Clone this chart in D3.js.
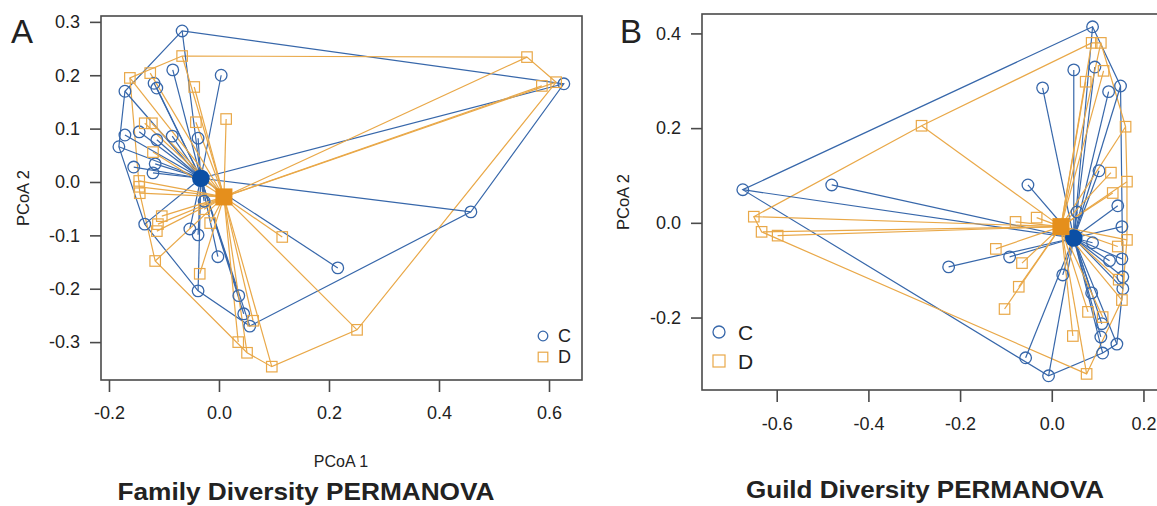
<!DOCTYPE html>
<html><head><meta charset="utf-8">
<script src="https://cdn.jsdelivr.net/npm/d3@7"></script>
<style>
html,body{margin:0;padding:0;background:#fff;}
svg{display:block;}
text{font-family:"Liberation Sans",Arial,sans-serif;fill:#222;}
</style></head>
<body>
<svg id="chart" width="1157" height="506"></svg>
<script>
// ---------- DATA ----------
const groups = ["C", "D"];
// Panel A: Family diversity (PCoA1, PCoA2)
const famC = [[-0.067,0.283],[-0.084,0.210],[0.004,0.200],[-0.118,0.185],[-0.113,0.176],[-0.171,0.170],
  [-0.145,0.094],[-0.171,0.088],[-0.113,0.079],[-0.085,0.086],[-0.038,0.082],[-0.182,0.066],
  [-0.155,0.028],[-0.116,0.034],[-0.120,0.017],[-0.027,-0.036],[-0.135,-0.079],[-0.053,-0.088],
  [-0.038,-0.099],[-0.002,-0.140],[-0.038,-0.204],[0.036,-0.213],[0.045,-0.247],[0.056,-0.270],
  [0.458,-0.056],[0.216,-0.161],[0.627,0.184]];
const famD = [[-0.067,0.236],[-0.162,0.195],[-0.125,0.204],[-0.045,0.178],[-0.135,0.110],[-0.122,0.110],
  [-0.042,0.112],[0.013,0.118],[-0.120,0.056],[-0.145,0.002],[-0.145,-0.009],[-0.144,-0.021],
  [-0.104,-0.064],[-0.111,-0.079],[-0.113,-0.092],[-0.027,-0.051],[-0.016,-0.077],[-0.116,-0.148],
  [-0.035,-0.172],[0.115,-0.103],[0.035,-0.300],[0.051,-0.320],[0.096,-0.346],[0.062,-0.260],
  [0.251,-0.277],[0.560,0.234],[0.587,0.180],[0.613,0.187]];
const famCentroids = [[-0.033,0.007],[0.009,-0.028]];
// Panel B: Guild diversity
const guildC = [[-0.674,0.070],[-0.480,0.080],[0.089,0.414],[0.048,0.323],[0.094,0.329],[-0.020,0.285],
  [0.124,0.277],[0.150,0.289],[0.103,0.110],[-0.052,0.080],[0.144,0.036],[0.055,0.023],
  [0.153,-0.008],[0.089,-0.042],[0.126,-0.080],[0.153,-0.076],[-0.092,-0.072],[-0.225,-0.093],
  [0.024,-0.110],[0.155,-0.114],[0.155,-0.139],[0.087,-0.148],[0.109,-0.213],[0.107,-0.241],
  [0.142,-0.256],[0.111,-0.275],[-0.057,-0.285],[-0.007,-0.323]];
const guildD = [[0.087,0.380],[0.107,0.380],[0.074,0.298],[0.113,0.321],[-0.284,0.205],[0.161,0.203],
  [0.129,0.106],[0.164,0.087],[0.133,0.063],[-0.079,0.002],[-0.033,0.011],[0.164,-0.036],
  [0.144,-0.050],[-0.122,-0.055],[-0.065,-0.085],[0.146,-0.120],[0.153,-0.163],[-0.072,-0.135],
  [-0.103,-0.182],[0.079,-0.188],[0.111,-0.199],[0.046,-0.239],[0.076,-0.319],
  [-0.650,0.013],[-0.633,-0.019],[-0.598,-0.027]];
const guildCentroids = [[0.048,-0.032],[0.020,-0.008]];
const famXTicks = [-0.2,0.0,0.2,0.4,0.6];
const famYTicks = [-0.3,-0.2,-0.1,0.0,0.1,0.2,0.3];
const guildXTicks = [-0.6,-0.4,-0.2,0.0,0.2];
const guildYTicks = [-0.2,0.0,0.2,0.4];

// ---------- STYLE ----------
const lineCol = {C:"#3767aa", D:"#e9a848"};
const centCol = {C:"#0b4fa5", D:"#e58f1c"};
const boxCol = "#4a4a4a";

const svg = d3.select("#chart");

function panel(cfg){
  const g = svg.append("g");
  const x = d3.scaleLinear().domain(cfg.xdom).range([cfg.left, cfg.right]);
  const y = d3.scaleLinear().domain(cfg.ydom).range([cfg.bottom, cfg.top]);
  const sets = [cfg.C, cfg.D];
  // hulls
  groups.forEach((gr,i)=>{
    const pts = sets[i].map(d=>[x(d[0]),y(d[1])]);
    const hull = d3.polygonHull(pts);
    g.append("path").attr("d","M"+hull.join("L")+"Z")
      .attr("fill","none").attr("stroke",lineCol[gr]).attr("stroke-width",1.2);
  });
  // segments
  groups.forEach((gr,i)=>{
    const c = cfg.cent[i];
    g.selectAll(null).data(sets[i]).enter().append("line")
      .attr("x1",x(c[0])).attr("y1",y(c[1]))
      .attr("x2",d=>x(d[0])).attr("y2",d=>y(d[1]))
      .attr("stroke",lineCol[gr]).attr("stroke-width",1.2);
  });
  // points
  g.selectAll(null).data(cfg.C).enter().append("circle")
    .attr("cx",d=>x(d[0])).attr("cy",d=>y(d[1])).attr("r",5.8)
    .attr("fill","none").attr("stroke",lineCol.C).attr("stroke-width",1.3);
  const s = 10.5;
  g.selectAll(null).data(cfg.D).enter().append("rect")
    .attr("x",d=>x(d[0])-s/2).attr("y",d=>y(d[1])-s/2).attr("width",s).attr("height",s)
    .attr("fill","none").attr("stroke",lineCol.D).attr("stroke-width",1.2);
  // centroids
  g.append("circle").attr("cx",x(cfg.cent[0][0])).attr("cy",y(cfg.cent[0][1])).attr("r",8.8)
    .attr("fill",centCol.C);
  const cs = 17;
  g.append("rect").attr("x",x(cfg.cent[1][0])-cs/2).attr("y",y(cfg.cent[1][1])-cs/2)
    .attr("width",cs).attr("height",cs).attr("fill",centCol.D);
  // box
  g.append("rect").attr("x",cfg.left).attr("y",cfg.top)
    .attr("width",cfg.right-cfg.left).attr("height",cfg.bottom-cfg.top)
    .attr("fill","none").attr("stroke",boxCol).attr("stroke-width",1.6);
  // axes
  const fmt = d=>d.toFixed(1);
  const ax = g.append("g").attr("transform",`translate(0,${cfg.bottom})`)
    .call(d3.axisBottom(x).tickValues(cfg.xticks).tickFormat(fmt).tickSize(12).tickPadding(cfg.xpad));
  const ay = g.append("g").attr("transform",`translate(${cfg.left},0)`)
    .call(d3.axisLeft(y).tickValues(cfg.yticks).tickFormat(fmt).tickSize(11).tickPadding(10));
  [ax,ay].forEach(a=>{
    a.select(".domain").remove();
    a.selectAll(".tick line").attr("stroke",boxCol).attr("stroke-width",1.6);
    a.selectAll(".tick text").attr("font-size",18).attr("fill","#222")
      .attr("font-family","'Liberation Sans',Arial,sans-serif");
  });
  // y label
  g.append("text").attr("transform",`translate(${cfg.ylabX},${(cfg.top+cfg.bottom)/2}) rotate(-90)`)
    .attr("text-anchor","middle").attr("font-size",16.5).text("PCoA 2");
  // panel letter
  g.append("text").attr("x",cfg.letterX).attr("y",43).attr("font-size",33).text(cfg.letter);
  // legend
  const L = cfg.legend;
  g.append("circle").attr("cx",L.x).attr("cy",L.y1).attr("r",L.r)
    .attr("fill","none").attr("stroke",lineCol.C).attr("stroke-width",1.3);
  g.append("rect").attr("x",L.x-L.r).attr("y",L.y2-L.r).attr("width",2*L.r).attr("height",2*L.r)
    .attr("fill","none").attr("stroke",lineCol.D).attr("stroke-width",1.2);
  g.append("text").attr("x",L.tx).attr("y",L.y1).attr("dy","0.36em").attr("font-size",L.fs).text(groups[0]);
  g.append("text").attr("x",L.tx).attr("y",L.y2).attr("dy","0.36em").attr("font-size",L.fs).text(groups[1]);
  // title
  g.append("text").attr("x",cfg.titleX).attr("y",cfg.titleY).attr("text-anchor","middle")
    .attr("font-family","Lato,'Open Sans',sans-serif").attr("font-weight","bold")
    .attr("font-size",24).attr("fill","#111")
    .attr("textLength",cfg.titleW).attr("lengthAdjust","spacingAndGlyphs")
    .text(cfg.title);
  return {x,y};
}

panel({left:101,right:582,top:16,bottom:380,xdom:[-0.2145,0.66],ydom:[-0.371,0.311],
  C:famC,D:famD,cent:famCentroids,xticks:famXTicks,yticks:famYTicks,xpad:14,
  ylabX:29,letter:"A",letterX:11,
  legend:{x:543,y1:336,y2:357,r:4.8,tx:558,fs:18},
  titleX:306,titleY:500,titleW:377,title:"Family Diversity PERMANOVA"});
svg.append("text").attr("x",341).attr("y",467).attr("text-anchor","middle").attr("font-size",16).text("PCoA 1");

panel({left:702,right:1165,top:14,bottom:390,xdom:[-0.763,0.247],ydom:[-0.353,0.441],
  C:guildC,D:guildD,cent:guildCentroids,xticks:guildXTicks,yticks:guildYTicks,xpad:15,
  ylabX:629,letter:"B",letterX:620,
  legend:{x:719,y1:332,y2:361,r:6,tx:738,fs:21},
  titleX:925,titleY:498,titleW:358,title:"Guild Diversity PERMANOVA"});
</script>
</body></html>
